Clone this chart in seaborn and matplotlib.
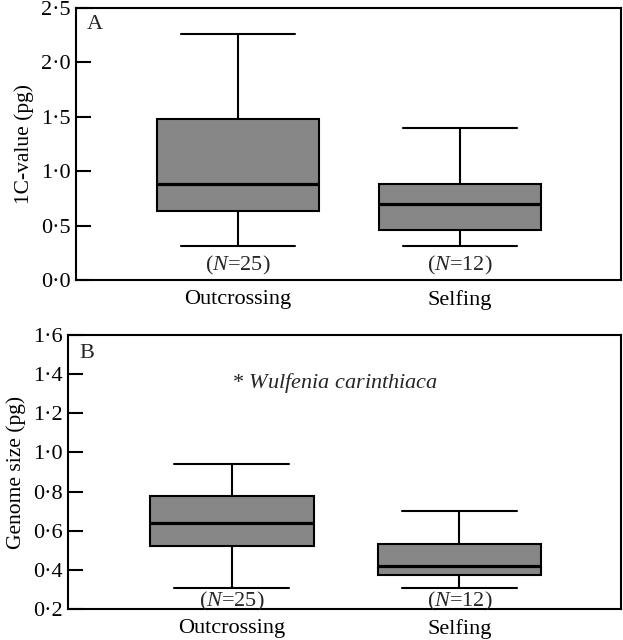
import matplotlib
matplotlib.use("Agg")
import matplotlib.pyplot as plt
import matplotlib.ticker as mticker
import numpy as np
import pandas as pd
import seaborn as sns

# ---- data (five-number summaries) ----
groups = ["Outcrossing", "Selfing"]
n_labels = ["25", "12"]
# panel A: 1C-value (pg)  [min, Q1, median, Q3, max]
a_outcrossing = [0.31, 0.63, 0.885, 1.48, 2.26]
a_selfing = [0.31, 0.46, 0.70, 0.88, 1.40]
# panel B: genome size (pg)
b_outcrossing = [0.31, 0.52, 0.64, 0.78, 0.94]
b_selfing = [0.31, 0.375, 0.42, 0.53, 0.70]
a_ticks = [0.0, 0.5, 1.0, 1.5, 2.0, 2.5]
b_ticks = [0.2, 0.4, 0.6, 0.8, 1.0, 1.2, 1.4, 1.6]

sns.set_theme(style="white")
plt.rcParams["font.family"] = ["Liberation Serif", "DejaVu Serif"]
plt.rcParams["mathtext.fontset"] = "custom"
plt.rcParams["mathtext.rm"] = "Liberation Serif"
plt.rcParams["mathtext.it"] = "Liberation Serif:italic"

FS = 16

def frame(values_list):
    rows = []
    for g, vals in zip(groups, values_list):
        for v in vals:
            rows.append({"group": g, "value": v})
    return pd.DataFrame(rows)

fig = plt.figure(figsize=(6.23, 6.40), dpi=100)
axA = fig.add_axes([0.122, 0.5625, 0.875, 0.425])
axB = fig.add_axes([0.109, 0.0484, 0.888, 0.428])

fmt = mticker.FuncFormatter(lambda v, p: f"{v:.1f}".replace(".", "\u00b7"))

def draw(ax, df, ylim, ticks, ylabel, letter, xlim, width, nlabel_y, letter_y):
    sns.boxplot(data=df, x="group", y="value", ax=ax, order=groups,
                whis=(0, 100), width=width, color="#878787", saturation=1,
                linecolor="black", linewidth=1.5, fliersize=0,
                medianprops=dict(linewidth=2.3, color="black"),
                capwidths=0.7 * width)
    for p in ax.patches:
        p.set_facecolor("#878787")
        p.set_edgecolor("black")
    ax.set_ylim(*ylim)
    ax.set_xlim(*xlim)
    ax.set_yticks(ticks)
    ax.yaxis.set_major_formatter(fmt)
    ax.tick_params(axis="y", direction="in", length=11, width=1.5,
                   labelsize=FS, left=True, pad=4, colors="black")
    ax.tick_params(axis="x", length=0, labelsize=FS, pad=7, colors="black")
    ax.set_xlabel("")
    ax.set_ylabel(ylabel, fontsize=15.5, color="black", labelpad=5)
    for s in ax.spines.values():
        s.set_visible(True)
        s.set_color("black")
        s.set_linewidth(1.5)
    ax.text(0.02, letter_y, letter,
            transform=ax.transAxes, fontsize=FS, ha="left", va="center")
    for i, n in enumerate(n_labels):
        ax.text(i, nlabel_y, r"($\mathit{N}$=" + n + ")",
                ha="center", va="center", fontsize=FS)

draw(axA, frame([a_outcrossing, a_selfing]), (0, 2.5), a_ticks,
     "1C-value (pg)", "A", (-0.73, 1.725), 0.73, 0.13, 0.94)
draw(axB, frame([b_outcrossing, b_selfing]), (0.2, 1.6), b_ticks,
     "Genome size (pg)", "B", (-0.72, 1.71), 0.72, 0.237, 0.934)

axB.text(0.297, 0.825, r"* $\mathit{Wulfenia\ carinthiaca}$",
         transform=axB.transAxes, fontsize=FS, ha="left", va="center")

fig.savefig("out.png", dpi=100)
